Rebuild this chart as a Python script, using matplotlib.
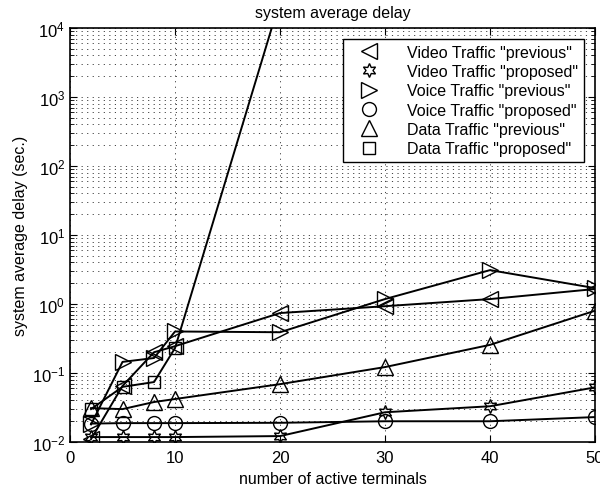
import numpy as np
import matplotlib
matplotlib.use("Agg")
import matplotlib.pyplot as plt
from matplotlib.lines import Line2D
from matplotlib.ticker import LogLocator, NullFormatter

plt.rcParams['font.family'] = ['Liberation Sans', 'DejaVu Sans']
plt.rcParams['mathtext.fontset'] = 'custom'
plt.rcParams['mathtext.rm'] = 'Liberation Sans'
plt.rcParams['mathtext.it'] = 'Liberation Sans'

terminals = [2, 5, 8, 10, 20, 30, 40, 50]
video_previous = [0.011, 0.065, 0.20, 0.245, 0.74, 0.93, 1.18, 1.65]
video_proposed = [0.0118, 0.0118, 0.0118, 0.0118, 0.0122, 0.027, 0.033, 0.062]
voice_previous = [0.018, 0.145, 0.165, 0.40, 0.39, 1.18, 3.1, 1.7]
voice_proposed = [0.0185, 0.0188, 0.0188, 0.0188, 0.019, 0.020, 0.020, 0.023]
data_previous = [0.031, 0.030, 0.038, 0.042, 0.069, 0.122, 0.256, 0.80]
data_proposed_x = [2, 5, 8, 10, 20]
data_proposed = [0.030, 0.063, 0.074, 0.23, 2.5e4]

labels = ['Video Traffic "previous"', 'Video Traffic "proposed"',
          'Voice Traffic "previous"', 'Voice Traffic "proposed"',
          'Data Traffic "previous"', 'Data Traffic "proposed"']
markers = ['<', (6, 1, 0), '>', 'o', '^', 's']
msizes = [11, 10, 11, 10, 11, 9]

fig = plt.figure(figsize=(6.0, 4.89), dpi=100)
ax = fig.add_axes([0.1167, 0.094, 0.875, 0.8467])

series = [(terminals, video_previous), (terminals, video_proposed),
          (terminals, voice_previous), (terminals, voice_proposed),
          (terminals, data_previous), (data_proposed_x, data_proposed)]
for (xs, ys), m, ms in zip(series, markers, msizes):
    ax.plot(xs, ys, color='black', lw=1.4, marker=m, markersize=ms,
            markerfacecolor='none', markeredgecolor='black', markeredgewidth=1.0)

ax.set_yscale('log')
ax.set_xlim(0, 50)
ax.set_ylim(1e-2, 1e4)
ax.set_xticks([0, 10, 20, 30, 40, 50])
ax.yaxis.set_major_locator(LogLocator(base=10, numticks=10))
ax.yaxis.set_minor_locator(LogLocator(base=10, subs=np.arange(2, 10), numticks=20))
ax.yaxis.set_minor_formatter(NullFormatter())

ax.grid(True, which='major', axis='both', linestyle=(0, (1.2, 4.5)), color='#444444', lw=0.7)
ax.grid(True, which='minor', axis='y', linestyle=(0, (1.2, 4.5)), color='#444444', lw=0.7)

ax.tick_params(which='both', direction='in', top=True, right=True, labelsize=12)
ax.tick_params(axis='x', pad=6)
ax.tick_params(which='major', length=5)
ax.tick_params(which='minor', length=3)
for s in ax.spines.values():
    s.set_linewidth(1.2)

ax.set_xlabel('number of active terminals', fontsize=11.5, labelpad=4)
ax.set_ylabel('system average delay (sec.)', fontsize=11.5, labelpad=3)
ax.set_title('system average delay', fontsize=11.5, pad=8)

handles = [Line2D([], [], linestyle='none', marker=m, markersize=ms,
                  markerfacecolor='none', markeredgecolor='black', markeredgewidth=1.0)
           for m, ms in zip(markers, msizes)]
leg = ax.legend(handles, labels, loc='upper right', fontsize=11.5,
                frameon=True, fancybox=False, edgecolor='black', framealpha=1,
                borderaxespad=0.7, handletextpad=1.1, labelspacing=0.27,
                handlelength=2.6, borderpad=0.35)
leg.get_frame().set_linewidth(1.0)

fig.savefig('out.png', dpi=100)
